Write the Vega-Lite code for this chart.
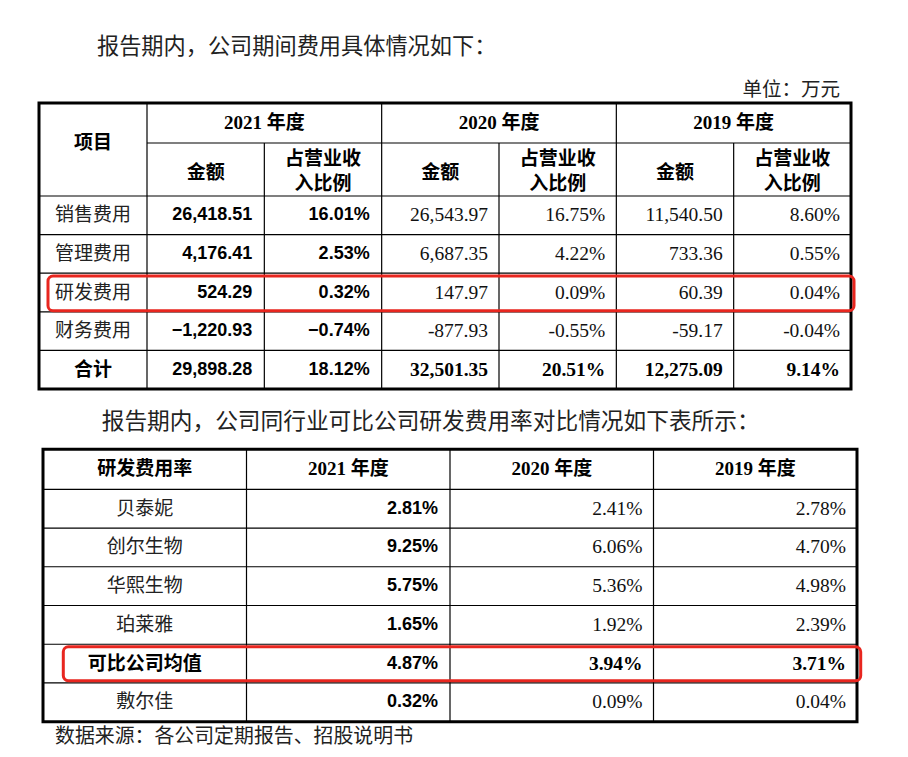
{
  "$schema": "https://vega.github.io/schema/vega-lite/v6.json",
  "padding": 0,
  "background": "white",
  "spacing": 0,
  "config": {"view": {"stroke": null}, "concat": {"spacing": 0}},
  "datasets": {
    "gridA": [
      {"c": 1, "c2": 1, "r": 0, "r2": 7}, {"c": 2, "c2": 2, "r": 1, "r2": 7},
      {"c": 3, "c2": 3, "r": 0, "r2": 7}, {"c": 4, "c2": 4, "r": 1, "r2": 7},
      {"c": 5, "c2": 5, "r": 0, "r2": 7}, {"c": 6, "c2": 6, "r": 1, "r2": 7},
      {"c": 1, "c2": 7, "r": 1, "r2": 1}, {"c": 0, "c2": 7, "r": 2, "r2": 2},
      {"c": 0, "c2": 7, "r": 3, "r2": 3}, {"c": 0, "c2": 7, "r": 4, "r2": 4},
      {"c": 0, "c2": 7, "r": 5, "r2": 5}, {"c": 0, "c2": 7, "r": 6, "r2": 6}
    ],
    "borderA": [{"c": 0, "c2": 7, "r": 0, "r2": 7}],
    "highlightA": [{"c": 0, "c2": 7, "r": 4, "r2": 5}],
    "cellsA": [
      {"r": 1, "c": 0.5, "t": "项目", "k": "hb"},
      {"r": 0.5, "c": 2, "t": "2021 年度", "k": "hb"},
      {"r": 0.5, "c": 4, "t": "2020 年度", "k": "hb"},
      {"r": 0.5, "c": 6, "t": "2019 年度", "k": "hb"},
      {"r": 1.57, "c": 1.5, "t": "金额", "k": "hb"},
      {"r": 1.5, "c": 2.5, "t": "占营业收\n入比例", "k": "hb2"},
      {"r": 1.57, "c": 3.5, "t": "金额", "k": "hb"},
      {"r": 1.5, "c": 4.5, "t": "占营业收\n入比例", "k": "hb2"},
      {"r": 1.57, "c": 5.5, "t": "金额", "k": "hb"},
      {"r": 1.5, "c": 6.5, "t": "占营业收\n入比例", "k": "hb2"},
      {"r": 2.5, "c": 0.5, "t": "销售费用", "k": "l"},
      {"r": 2.5, "c": 2, "t": "26,418.51", "k": "n21"},
      {"r": 2.5, "c": 3, "t": "16.01%", "k": "n21"},
      {"r": 2.5, "c": 4, "t": "26,543.97", "k": "n"},
      {"r": 2.5, "c": 5, "t": "16.75%", "k": "n"},
      {"r": 2.5, "c": 6, "t": "11,540.50", "k": "n"},
      {"r": 2.5, "c": 7, "t": "8.60%", "k": "n"},
      {"r": 3.5, "c": 0.5, "t": "管理费用", "k": "l"},
      {"r": 3.5, "c": 2, "t": "4,176.41", "k": "n21"},
      {"r": 3.5, "c": 3, "t": "2.53%", "k": "n21"},
      {"r": 3.5, "c": 4, "t": "6,687.35", "k": "n"},
      {"r": 3.5, "c": 5, "t": "4.22%", "k": "n"},
      {"r": 3.5, "c": 6, "t": "733.36", "k": "n"},
      {"r": 3.5, "c": 7, "t": "0.55%", "k": "n"},
      {"r": 4.5, "c": 0.5, "t": "研发费用", "k": "l"},
      {"r": 4.5, "c": 2, "t": "524.29", "k": "n21"},
      {"r": 4.5, "c": 3, "t": "0.32%", "k": "n21"},
      {"r": 4.5, "c": 4, "t": "147.97", "k": "n"},
      {"r": 4.5, "c": 5, "t": "0.09%", "k": "n"},
      {"r": 4.5, "c": 6, "t": "60.39", "k": "n"},
      {"r": 4.5, "c": 7, "t": "0.04%", "k": "n"},
      {"r": 5.5, "c": 0.5, "t": "财务费用", "k": "l"},
      {"r": 5.5, "c": 2, "t": "−1,220.93", "k": "n21"},
      {"r": 5.5, "c": 3, "t": "−0.74%", "k": "n21"},
      {"r": 5.5, "c": 4, "t": "-877.93", "k": "n"},
      {"r": 5.5, "c": 5, "t": "-0.55%", "k": "n"},
      {"r": 5.5, "c": 6, "t": "-59.17", "k": "n"},
      {"r": 5.5, "c": 7, "t": "-0.04%", "k": "n"},
      {"r": 6.5, "c": 0.5, "t": "合计", "k": "hb"},
      {"r": 6.5, "c": 2, "t": "29,898.28", "k": "n21"},
      {"r": 6.5, "c": 3, "t": "18.12%", "k": "n21"},
      {"r": 6.5, "c": 4, "t": "32,501.35", "k": "nb"},
      {"r": 6.5, "c": 5, "t": "20.51%", "k": "nb"},
      {"r": 6.5, "c": 6, "t": "12,275.09", "k": "nb"},
      {"r": 6.5, "c": 7, "t": "9.14%", "k": "nb"}
    ],
    "gridB": [
      {"c": 1, "c2": 1, "r": 0, "r2": 7}, {"c": 2, "c2": 2, "r": 0, "r2": 7},
      {"c": 3, "c2": 3, "r": 0, "r2": 7},
      {"c": 0, "c2": 4, "r": 1, "r2": 1}, {"c": 0, "c2": 4, "r": 2, "r2": 2},
      {"c": 0, "c2": 4, "r": 3, "r2": 3}, {"c": 0, "c2": 4, "r": 4, "r2": 4},
      {"c": 0, "c2": 4, "r": 5, "r2": 5}, {"c": 0, "c2": 4, "r": 6, "r2": 6}
    ],
    "borderB": [{"c": 0, "c2": 4, "r": 0, "r2": 7}],
    "highlightB": [{"c": 0, "c2": 4, "r": 5, "r2": 6}],
    "cellsB": [
      {"r": 0.5, "c": 0.5, "t": "研发费用率", "k": "hb"},
      {"r": 0.5, "c": 1.5, "t": "2021 年度", "k": "hb"},
      {"r": 0.5, "c": 2.5, "t": "2020 年度", "k": "hb"},
      {"r": 0.5, "c": 3.5, "t": "2019 年度", "k": "hb"},
      {"r": 1.5, "c": 0.5, "t": "贝泰妮", "k": "l"},
      {"r": 1.5, "c": 2, "t": "2.81%", "k": "n21"},
      {"r": 1.5, "c": 3, "t": "2.41%", "k": "n"},
      {"r": 1.5, "c": 4, "t": "2.78%", "k": "n"},
      {"r": 2.5, "c": 0.5, "t": "创尔生物", "k": "l"},
      {"r": 2.5, "c": 2, "t": "9.25%", "k": "n21"},
      {"r": 2.5, "c": 3, "t": "6.06%", "k": "n"},
      {"r": 2.5, "c": 4, "t": "4.70%", "k": "n"},
      {"r": 3.5, "c": 0.5, "t": "华熙生物", "k": "l"},
      {"r": 3.5, "c": 2, "t": "5.75%", "k": "n21"},
      {"r": 3.5, "c": 3, "t": "5.36%", "k": "n"},
      {"r": 3.5, "c": 4, "t": "4.98%", "k": "n"},
      {"r": 4.5, "c": 0.5, "t": "珀莱雅", "k": "l"},
      {"r": 4.5, "c": 2, "t": "1.65%", "k": "n21"},
      {"r": 4.5, "c": 3, "t": "1.92%", "k": "n"},
      {"r": 4.5, "c": 4, "t": "2.39%", "k": "n"},
      {"r": 5.5, "c": 0.5, "t": "可比公司均值", "k": "hb"},
      {"r": 5.5, "c": 2, "t": "4.87%", "k": "n21"},
      {"r": 5.5, "c": 3, "t": "3.94%", "k": "nb"},
      {"r": 5.5, "c": 4, "t": "3.71%", "k": "nb"},
      {"r": 6.5, "c": 0.5, "t": "敷尔佳", "k": "l"},
      {"r": 6.5, "c": 2, "t": "0.32%", "k": "n21"},
      {"r": 6.5, "c": 3, "t": "0.09%", "k": "n"},
      {"r": 6.5, "c": 4, "t": "0.04%", "k": "n"}
    ]
  },
  "vconcat": [
    {
      "width": 908,
      "height": 400,
      "encoding": {
        "x": {"field": "c", "type": "quantitative", "axis": null,
              "scale": {"type": "linear", "domain": [0, 1, 7], "range": [39, 147, 851], "zero": false, "nice": false}},
        "y": {"field": "r", "type": "quantitative", "axis": null,
              "scale": {"type": "linear", "domain": [-1.5, -0.5, 0, 1, 2, 7], "range": [46.7, 90, 103, 143, 196, 389], "zero": false, "nice": false}}
      },
      "layer": [
        {"data": {"name": "gridA"}, "mark": {"type": "rule", "color": "#000", "strokeWidth": 1.2},
         "encoding": {"x2": {"field": "c2"}, "y2": {"field": "r2"}}},
        {"data": {"name": "borderA"}, "mark": {"type": "rect", "filled": false, "stroke": "#000", "strokeWidth": 3},
         "encoding": {"x2": {"field": "c2"}, "y2": {"field": "r2"}}},
        {"data": {"name": "highlightA"}, "mark": {"type": "rect", "filled": false, "stroke": "#e8261f", "strokeWidth": 3, "cornerRadius": 5, "xOffset": 9, "x2Offset": 3, "yOffset": 2.8, "y2Offset": -1.1},
         "encoding": {"x2": {"field": "c2"}, "y2": {"field": "r2"}}},
        {"data": {"values": [{"c": 0, "r": -1.5, "t": "报告期内，公司期间费用具体情况如下："}]},
         "mark": {"type": "text", "align": "left", "baseline": "middle", "dx": 58, "font": "Noto Sans CJK SC", "fontSize": 22.2, "color": "#222"},
         "encoding": {"text": {"field": "t"}}},
        {"data": {"values": [{"c": 7, "r": -0.5, "t": "单位：万元"}]},
         "mark": {"type": "text", "align": "right", "baseline": "middle", "dx": -11, "font": "Noto Sans CJK SC", "fontSize": 19.5, "color": "#222"},
         "encoding": {"text": {"field": "t"}}},
        {"data": {"name": "cellsA"}, "transform": [{"filter": "datum.k === 'l'"}],
         "mark": {"type": "text", "align": "center", "baseline": "middle", "font": "Noto Sans CJK SC", "fontSize": 19, "color": "#222"},
         "encoding": {"text": {"field": "t"}}},
        {"data": {"name": "cellsA"}, "transform": [{"filter": "datum.k === 'hb'"}],
         "mark": {"type": "text", "align": "center", "baseline": "middle", "font": "Liberation Serif, Noto Sans CJK SC", "fontSize": 19, "fontWeight": "bold", "color": "#000"},
         "encoding": {"text": {"field": "t"}}},
        {"data": {"name": "cellsA"}, "transform": [{"filter": "datum.k === 'hb2'"}],
         "mark": {"type": "text", "align": "center", "baseline": "middle", "dy": -11, "font": "Liberation Serif, Noto Sans CJK SC", "fontSize": 19, "fontWeight": "bold", "color": "#000", "lineBreak": "\n", "lineHeight": 25},
         "encoding": {"text": {"field": "t"}}},
        {"data": {"name": "cellsA"}, "transform": [{"filter": "datum.k === 'n21'"}],
         "mark": {"type": "text", "align": "right", "baseline": "middle", "dx": -12, "font": "Liberation Sans", "fontSize": 18, "fontWeight": "bold", "color": "#000"},
         "encoding": {"text": {"field": "t"}}},
        {"data": {"name": "cellsA"}, "transform": [{"filter": "datum.k === 'n'"}],
         "mark": {"type": "text", "align": "right", "baseline": "middle", "dx": -11, "font": "Liberation Serif", "fontSize": 19.5, "color": "#111"},
         "encoding": {"text": {"field": "t"}}},
        {"data": {"name": "cellsA"}, "transform": [{"filter": "datum.k === 'nb'"}],
         "mark": {"type": "text", "align": "right", "baseline": "middle", "dx": -11, "font": "Liberation Serif", "fontSize": 19.5, "fontWeight": "bold", "color": "#000"},
         "encoding": {"text": {"field": "t"}}}
      ]
    },
    {
      "width": 908,
      "height": 357,
      "encoding": {
        "x": {"field": "c", "type": "quantitative", "axis": null,
              "scale": {"type": "linear", "domain": [0, 4], "range": [43, 857], "zero": false, "nice": false}},
        "y": {"field": "r", "type": "quantitative", "axis": null,
              "scale": {"type": "linear", "domain": [-1, 0, 1, 7, 7.5], "range": [21.7, 49.3, 89.3, 321.7, 336.7], "zero": false, "nice": false}}
      },
      "layer": [
        {"data": {"name": "gridB"}, "mark": {"type": "rule", "color": "#000", "strokeWidth": 1.2},
         "encoding": {"x2": {"field": "c2"}, "y2": {"field": "r2"}}},
        {"data": {"name": "borderB"}, "mark": {"type": "rect", "filled": false, "stroke": "#000", "strokeWidth": 3},
         "encoding": {"x2": {"field": "c2"}, "y2": {"field": "r2"}}},
        {"data": {"name": "highlightB"}, "mark": {"type": "rect", "filled": false, "stroke": "#e8261f", "strokeWidth": 3, "cornerRadius": 5, "xOffset": 20.3, "x2Offset": 3.7, "yOffset": 2.5, "y2Offset": -2.3},
         "encoding": {"x2": {"field": "c2"}, "y2": {"field": "r2"}}},
        {"data": {"values": [{"c": 0, "r": -1, "t": "报告期内，公司同行业可比公司研发费用率对比情况如下表所示："}]},
         "mark": {"type": "text", "align": "left", "baseline": "middle", "dx": 58.7, "font": "Noto Sans CJK SC", "fontSize": 22.7, "color": "#222"},
         "encoding": {"text": {"field": "t"}}},
        {"data": {"values": [{"c": 0, "r": 7.5, "t": "数据来源：各公司定期报告、招股说明书"}]},
         "mark": {"type": "text", "align": "left", "baseline": "middle", "dx": 12, "font": "Noto Sans CJK SC", "fontSize": 19.9, "color": "#222"},
         "encoding": {"text": {"field": "t"}}},
        {"data": {"name": "cellsB"}, "transform": [{"filter": "datum.k === 'l'"}],
         "mark": {"type": "text", "align": "center", "baseline": "middle", "font": "Noto Sans CJK SC", "fontSize": 19, "color": "#222"},
         "encoding": {"text": {"field": "t"}}},
        {"data": {"name": "cellsB"}, "transform": [{"filter": "datum.k === 'hb'"}],
         "mark": {"type": "text", "align": "center", "baseline": "middle", "font": "Liberation Serif, Noto Sans CJK SC", "fontSize": 19, "fontWeight": "bold", "color": "#000"},
         "encoding": {"text": {"field": "t"}}},
        {"data": {"name": "cellsB"}, "transform": [{"filter": "datum.k === 'n21'"}],
         "mark": {"type": "text", "align": "right", "baseline": "middle", "dx": -12, "font": "Liberation Sans", "fontSize": 18, "fontWeight": "bold", "color": "#000"},
         "encoding": {"text": {"field": "t"}}},
        {"data": {"name": "cellsB"}, "transform": [{"filter": "datum.k === 'n'"}],
         "mark": {"type": "text", "align": "right", "baseline": "middle", "dx": -11, "font": "Liberation Serif", "fontSize": 19.5, "color": "#111"},
         "encoding": {"text": {"field": "t"}}},
        {"data": {"name": "cellsB"}, "transform": [{"filter": "datum.k === 'nb'"}],
         "mark": {"type": "text", "align": "right", "baseline": "middle", "dx": -11, "font": "Liberation Serif", "fontSize": 19.5, "fontWeight": "bold", "color": "#000"},
         "encoding": {"text": {"field": "t"}}}
      ]
    }
  ]
}
